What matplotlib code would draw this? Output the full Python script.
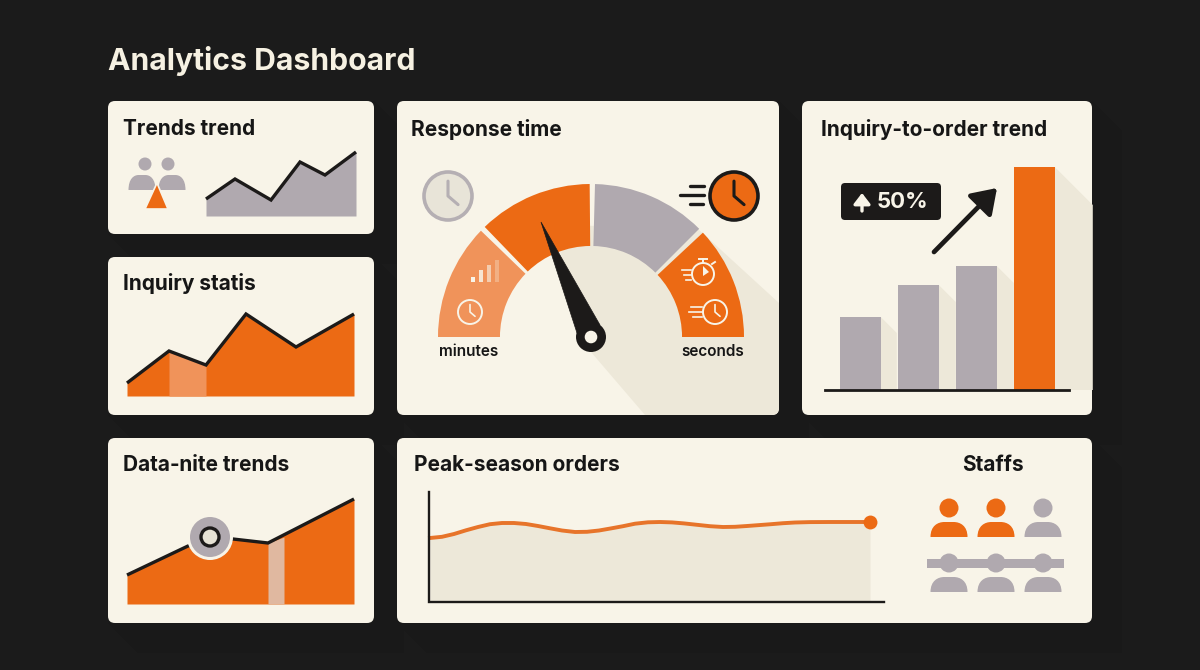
import matplotlib
matplotlib.use("Agg")
import matplotlib.pyplot as plt
from matplotlib.patches import FancyBboxPatch, Polygon, Circle, PathPatch, Rectangle
from matplotlib.path import Path

plt.rcParams["font.family"] = ["Inter", "DejaVu Sans"]

BG = "#1b1b1b"
CARD = "#f8f4e8"
ORANGE = "#ec6a14"
LIGHT_ORANGE = "#f0935a"
GREY = "#b0a9af"
DARK = "#1c1a19"
SHADOW = "#ede8d9"

# (x offset, height)
trends_x = [0, 29, 65, 94, 119, 150]
trends_y = [17, 37, 16, 54, 41, 64]

inquiry_x = [0, 42, 79, 119, 169, 227]
inquiry_y = [13, 45, 31, 82, 49, 82]

datanite_x = [0, 61, 106, 141, 227]
datanite_y = [29, 58, 65, 61, 105]

peak_x = [0, 12, 24, 36, 48, 60, 72, 84, 96, 108, 120, 132, 145, 157, 169, 181, 193, 205, 218,
          230, 242, 254, 266, 280, 293, 305, 317, 329, 341, 353, 365, 380, 400, 440]
peak_y = [64, 65.2, 68, 71.7, 75, 77.8, 79, 79, 78, 76, 73.7, 71.5, 70, 70.2, 71.5, 73.6, 75.8, 78.3, 79.7,
          80, 79.6, 78.6, 77.3, 75.8, 75, 75.2, 76, 76.9, 77.8, 78.8, 79.5, 79.9, 80, 80]

bar_values = [73, 105, 124, 223]
bar_colors = [GREY, GREY, GREY, ORANGE]

# degrees, counter clockwise from seconds side, with the small gaps between segments
gauge_shares = [43, 2, 43.5, 2, 43.5, 2, 44, 180]
gauge_colors = [ORANGE, "none", GREY, "none", ORANGE, "none", LIGHT_ORANGE, "none"]

staff_row1 = [ORANGE, ORANGE, GREY]
staff_row2 = [GREY, GREY, GREY]

W, H = 1200, 670
fig = plt.figure(figsize=(12, 6.7), dpi=100, facecolor=BG)

# base axes in pixel coordinates for cards and decoration
base = fig.add_axes([0, 0, 1, 1], zorder=0)
base.set_xlim(0, W)
base.set_ylim(H, 0)
base.axis("off")
top = fig.add_axes([0, 0, 1, 1], zorder=5)
top.set_xlim(0, W)
top.set_ylim(H, 0)
top.axis("off")


def px_axes(x0, y0, x1, y1, z=2):
    ax = fig.add_axes([x0 / W, 1 - y1 / H, (x1 - x0) / W, (y1 - y0) / H], zorder=z)
    ax.axis("off")
    return ax


def card(x0, y0, x1, y1):
    # faint diagonal shadow on the page behind the card
    d = 30
    base.add_patch(Polygon([(x1, y0), (x1 + d, y0 + d), (x1 + d, y1 + d), (x0 + d, y1 + d), (x0, y1)],
                           fc="#191919", ec="none", zorder=1))
    p = FancyBboxPatch((x0 + 7, y0 + 7), x1 - x0 - 14, y1 - y0 - 14, boxstyle="round,pad=7,rounding_size=7",
                       fc=CARD, ec="none", zorder=2)
    base.add_patch(p)
    return p


def title(x, y, s, **kw):
    top.text(x, y + 1, s, fontsize=kw.pop("fontsize", 15), fontweight="bold", color="#161616", va="center", **kw)


def area(box, xs, ys, color, ymax, xmax):
    ax = px_axes(*box)
    ax.set_xlim(0, xmax)
    ax.set_ylim(0, ymax)
    ax.fill_between(xs, ys, 0, color=color, lw=0)
    ax.plot(xs, ys, color=DARK, lw=2.4, solid_capstyle="butt", solid_joinstyle="miter", clip_on=False)
    return ax


def dome(cx, y_top, y_bot, hw, color):
    k = (y_bot - y_top)
    verts = [(cx - hw, y_bot), (cx - hw, y_top + k * 0.25), (cx - hw * 0.6, y_top), (cx - hw * 0.25, y_top),
             (cx + hw * 0.25, y_top), (cx + hw * 0.6, y_top), (cx + hw, y_top + k * 0.25), (cx + hw, y_bot), (cx - hw, y_bot)]
    codes = [Path.MOVETO, Path.CURVE4, Path.CURVE4, Path.CURVE4, Path.LINETO, Path.CURVE4, Path.CURVE4, Path.CURVE4, Path.CLOSEPOLY]
    top.add_patch(PathPatch(Path(verts, codes), fc=color, ec="none"))


def clock(cx, cy, r, ring, fill, hand, lw, hands=True):
    top.add_patch(Circle((cx, cy), r, fc=fill, ec=ring, lw=lw))
    if hands:
        top.plot([cx, cx, cx + r * 0.42], [cy - r * 0.62, cy, cy + r * 0.36], color=hand, lw=lw * 0.85,
                 solid_capstyle="round", solid_joinstyle="round")


top.text(108, 61.5, "Analytics Dashboard", color="#f6f1e2", fontsize=21.7, fontweight="bold", va="center")

card1 = card(108, 101, 374, 234)
card2 = card(108, 257, 374, 415)
card3 = card(397, 101, 779, 415)
card4 = card(802, 101, 1092, 415)
card5 = card(108, 438, 374, 623)
card6 = card(397, 438, 1092, 623)

# Trends trend
title(123, 128, "Trends trend")
area((206, 152, 356, 216), trends_x, trends_y, GREY, 64, 150)
top.add_patch(Circle((145, 164), 6.5, fc=GREY, ec="none"))
top.add_patch(Circle((168, 164), 6.5, fc=GREY, ec="none"))
dome(142, 175, 190, 13.5, GREY)
dome(172, 175, 190, 13.5, GREY)
top.add_patch(Polygon([(157, 183), (145, 209), (168, 209)], fc=ORANGE, ec=CARD, lw=1.2))

# Inquiry statis
title(123, 283, "Inquiry statis")
ax = area((127, 314, 354, 396), inquiry_x, inquiry_y, ORANGE, 82, 227)
ax.fill_between(inquiry_x[1:3], inquiry_y[1:3], 0, color=LIGHT_ORANGE, lw=0, zorder=1.5)

# Data-nite trends
title(123, 464, "Data\u2011nite trends")
ax = area((127, 499, 354, 604), datanite_x, datanite_y, ORANGE, 105, 227)
band_x = [datanite_x[3], datanite_x[3] + 16]
band_y = [datanite_y[3], datanite_y[3] + 6]
ax.fill_between(band_x, band_y, 0, color="#e0b8a0", lw=0, zorder=1.5)
top.add_patch(Circle((210, 537), 23, fc=CARD, ec="none"))
top.add_patch(Circle((210, 537), 20, fc=GREY, ec="none"))
top.add_patch(Circle((210, 537), 9, fc="#e6e2d4", ec=DARK, lw=2.4))

# Response time gauge
title(411, 128, "Response time")
hub = (591, 337)
shadow = Polygon([(552, 225), (697, 228), (779, 303), (779, 415), (645, 415), (591, 352)],
                 fc=SHADOW, ec="none", zorder=3)
base.add_patch(shadow)
shadow.set_clip_path(card3)

R = 153
gax = px_axes(hub[0] - R, hub[1] - R, hub[0] + R, hub[1] + R)
wedges, _ = gax.pie(gauge_shares, colors=gauge_colors, startangle=0, counterclock=True, radius=1,
                    wedgeprops=dict(width=0.405, lw=0))
gax.set_xlim(-1, 1)
gax.set_ylim(-1, 1)
for w, c in zip(wedges, gauge_colors):
    w.set_clip_on(False)
    if c == "none":
        w.set_visible(False)

clock(448, 196, 24, "#b5afb3", "#e8e4d8", "#b5afb3", 2.6)
clock(734, 196, 24, DARK, ORANGE, DARK, 2.6)
top.plot([690, 704], [186, 186], color=DARK, lw=2.4, solid_capstyle="round")
top.plot([680, 704], [195, 195], color=DARK, lw=2.4, solid_capstyle="round")
top.plot([690, 703], [204, 204], color=DARK, lw=2.4, solid_capstyle="round")

# small icons on the gauge
clock(470, 312, 12, CARD, "none", CARD, 1.4)
bar_icon_x = [473, 481, 489, 497]
bar_icon_top = [277, 270, 265, 260]
bar_icon_alpha = [1.0, 0.85, 0.6, 0.3]
for xi, ti, ai in zip(bar_icon_x, bar_icon_top, bar_icon_alpha):
    top.add_patch(Rectangle((xi - 2, ti), 4, 282 - ti, fc=CARD, ec="none", alpha=ai))
clock(703, 274, 11, CARD, "none", CARD, 1.4, hands=False)
top.add_patch(Polygon([(703, 266), (709, 272), (703, 276)], fc=CARD, ec="none"))
top.plot([703, 703], [259, 263], color=CARD, lw=1.4)
top.plot([699, 707], [259, 259], color=CARD, lw=1.4)
top.plot([712, 715], [264, 262], color=CARD, lw=1.4)
for yy, x0 in [(270, 682), (275, 684), (280, 686)]:
    top.plot([x0, 691], [yy, yy], color=CARD, lw=1.2)
clock(715, 312, 12, CARD, "none", CARD, 1.4)
for yy, x0 in [(307, 691), (312, 689), (317, 693)]:
    top.plot([x0, 702], [yy, yy], color=CARD, lw=1.2)

top.text(469, 352, "minutes", fontsize=11, fontweight=600, color="#161616", ha="center", va="center")
top.text(712.5, 352, "seconds", fontsize=11, fontweight=600, color="#161616", ha="center", va="center")

top.add_patch(Polygon([(541, 222), (577, 333), (600, 325)], fc=DARK, ec=DARK, lw=0.5, joinstyle="miter"))
top.add_patch(Circle(hub, 15, fc=DARK, ec="none"))
top.add_patch(Circle(hub, 6.3, fc=CARD, ec="none"))

# Inquiry-to-order trend
title(821, 128, "Inquiry-to-order trend")
bax = px_axes(825, 167, 1069, 390)
bax.set_xlim(-0.612, 3.595)
bax.set_ylim(0, 223)
bar_w = 0.7
drop = [16, 17, 17, 38]
for i, v in enumerate(bar_values):
    x_r = i + bar_w / 2
    dx = drop[i] / 58
    sh = Polygon([(x_r, v), (x_r + dx, v - drop[i]), (x_r + dx, 0), (x_r, 0)], fc=SHADOW, ec="none", zorder=1, clip_on=False)
    bax.add_patch(sh)
    sh.set_clip_path(card4)
bax.bar(range(len(bar_values)), bar_values, width=bar_w, color=bar_colors, zorder=2)
bax.axhline(0, color=DARK, lw=2, zorder=3, clip_on=False)

top.add_patch(FancyBboxPatch((845, 187), 92, 29, boxstyle="round,pad=4,rounding_size=4", fc=DARK, ec="none"))
top.text(876.5, 202.5, "50%", color="#f8f4e8", fontsize=16, fontweight="bold", ha="left", va="center")
top.annotate("", xy=(862, 193), xytext=(862, 211), arrowprops=dict(arrowstyle="-|>,head_width=0.5,head_length=0.65", color="#f8f4e8", lw=2.4, shrinkA=0, shrinkB=0))
top.annotate("", xy=(997, 188), xytext=(934, 252), arrowprops=dict(arrowstyle="-|>,head_width=0.97,head_length=1.44", color=DARK, lw=3.4, shrinkA=0, shrinkB=0))

# Peak-season orders
title(414, 464, "Peak-season orders")
pax = px_axes(430, 522, 870, 602)
pax.set_xlim(0, 440)
pax.set_ylim(0, 80)
pax.fill_between(peak_x, peak_y, 0, color=SHADOW, lw=0, clip_on=False)
pax.plot(peak_x, peak_y, color="#e7742a", lw=2.8, clip_on=False, solid_joinstyle="round")
pax.plot(peak_x[-1], peak_y[-1], "o", color=ORANGE, ms=10, clip_on=False, mec="none")
top.plot([429, 429, 884], [492, 602, 602], color=DARK, lw=1.7, solid_joinstyle="miter")

# Staffs
title(993, 464, "Staffs", ha="center")
staff_x = [949, 996, 1043]
for cx, c in zip(staff_x, staff_row1):
    top.add_patch(Circle((cx, 508), 9.5, fc=c, ec="none"))
    dome(cx, 522, 537, 18.5, c)
top.add_patch(Rectangle((927, 559), 137, 9, fc=GREY, ec="none"))
for cx, c in zip(staff_x, staff_row2):
    top.add_patch(Circle((cx, 563), 9.5, fc=c, ec="none"))
    dome(cx, 577, 592, 18.5, c)

fig.savefig("out.png", dpi=100, facecolor=BG)
